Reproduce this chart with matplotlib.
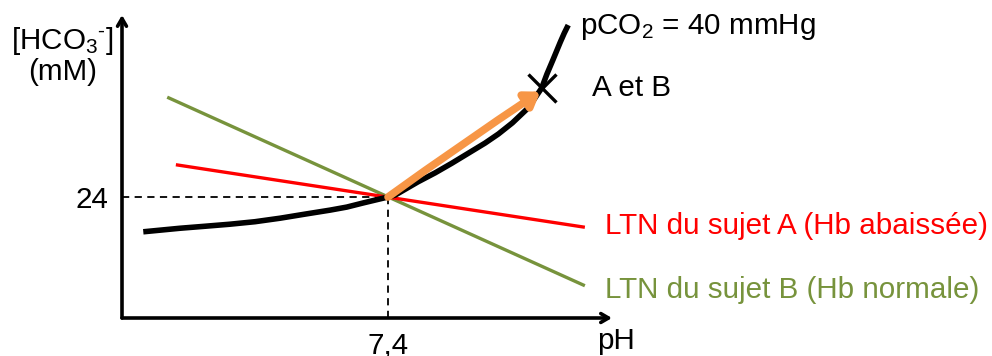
import matplotlib
matplotlib.use("Agg")
import matplotlib.pyplot as plt

plt.rcParams['font.family'] = ['Liberation Sans', 'DejaVu Sans']
plt.rcParams['mathtext.fontset'] = 'custom'
plt.rcParams['mathtext.rm'] = 'Liberation Sans'
plt.rcParams['mathtext.it'] = 'Liberation Sans:italic'

# --- data (schematic Davenport diagram) ---
curve_ph = [7.032, 7.087, 7.125, 7.162, 7.200, 7.238, 7.275, 7.313, 7.338,
            7.362, 7.400, 7.411, 7.445, 7.471, 7.496, 7.521, 7.546, 7.566,
            7.587, 7.611, 7.631, 7.639, 7.648, 7.659, 7.665, 7.671]
curve_hco3 = [17.1, 17.8, 18.2, 18.6, 19.1, 19.8, 20.6, 21.4, 22.0,
              22.8, 24.0, 24.4, 27.0, 28.8, 30.7, 32.7, 34.7, 36.5,
              38.7, 41.7, 45.6, 48.4, 51.2, 54.7, 56.5, 58.1]

ltn_a_ph = [7.081, 7.696]
ltn_a_hco3 = [30.4, 18.0]
ltn_b_ph = [7.068, 7.696]
ltn_b_hco3 = [43.8, 6.4]

normal_point = (7.4, 24.0)
ab_point = (7.631, 45.7)
arrow_end = (7.629, 44.9)

xticks = [7.4]
xtick_labels = ['7,4']
yticks = [24]
ytick_labels = ['24']

BLACK = '#000000'
RED = '#FF0000'
GREEN = '#77933C'
ORANGE = '#F79646'
FS = 21.3

fig = plt.figure(figsize=(9.92, 3.56), dpi=100)
ax = fig.add_axes([122/992, 38/356, 490/992, 303/356])
ax.set_xlim(7.0, 7.7368)
ax.set_ylim(0, 60.1)
for s in ax.spines.values():
    s.set_visible(False)

# axis arrows
ax.annotate('', xy=(0, 1), xytext=(0, 0), xycoords='axes fraction',
            arrowprops=dict(arrowstyle='->,head_length=0.55,head_width=0.32',
                            lw=2.6, color=BLACK, shrinkA=0, shrinkB=0))
ax.annotate('', xy=(1, 0), xytext=(0, 0), xycoords='axes fraction',
            arrowprops=dict(arrowstyle='->,head_length=0.55,head_width=0.32',
                            lw=2.6, color=BLACK, shrinkA=0, shrinkB=0))

# ticks
ax.set_xticks(xticks, xtick_labels, fontsize=FS)
ax.set_yticks(yticks, ytick_labels, fontsize=FS)
ax.tick_params(length=0, pad=10)

# dashed reference lines
ax.plot([7.0, normal_point[0]], [normal_point[1], normal_point[1]], color=BLACK,
        lw=1.3, dashes=(4, 3))
ax.plot([normal_point[0], normal_point[0]], [0, normal_point[1]], color=BLACK,
        lw=1.3, dashes=(4, 3))

# lines
ax.plot(ltn_b_ph, ltn_b_hco3, color=GREEN, lw=2.4, solid_capstyle='butt')
ax.plot(ltn_a_ph, ltn_a_hco3, color=RED, lw=2.4, solid_capstyle='butt')
ax.plot(curve_ph, curve_hco3, color=BLACK, lw=4.0, solid_capstyle='butt',
        solid_joinstyle='round', clip_on=False)

# orange arrow
ax.annotate('', xy=arrow_end, xytext=normal_point,
            arrowprops=dict(arrowstyle='-|>,head_length=0.8,head_width=0.55',
                            lw=5.5, color=ORANGE, shrinkA=0, shrinkB=0,
                            connectionstyle='arc3,rad=-0.01'))

# X marker
ax.plot([ab_point[0]], [ab_point[1]], marker='x', ms=19.5, mew=2.4, color=BLACK,
        clip_on=False)

# texts
ax.text(7.689, 57.7, r'pCO$_\mathregular{2}$ = 40 mmHg', fontsize=FS, va='center',
        ha='left', clip_on=False)
ax.text(7.707, 45.6, 'A et B', fontsize=FS, va='center', ha='left', clip_on=False)
ax.text(7.726, 18.2, 'LTN du sujet A (Hb abaissée)', fontsize=FS, color=RED,
        va='center', ha='left', clip_on=False)
ax.text(7.726, 5.5, 'LTN du sujet B (Hb normale)', fontsize=FS, color=GREEN,
        va='center', ha='left', clip_on=False)
ax.text(6.910, 54.9, r'[HCO$_\mathregular{3}$$^\text{-}$]', fontsize=FS,
        va='center', ha='center', clip_on=False)
ax.text(6.910, 48.8, '(mM)', fontsize=FS, va='center', ha='center', clip_on=False)
ax.text(7.714, -1.7, 'pH', fontsize=FS, va='top', ha='left', clip_on=False)

fig.savefig('out.png', dpi=100)
